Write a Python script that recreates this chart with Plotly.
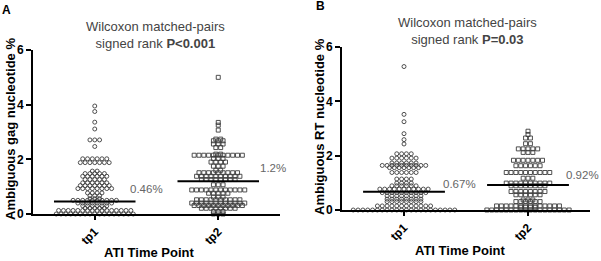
import plotly.graph_objects as go

# ---------------- data ----------------
categories = ["tp1", "tp2"]

# Panel A: ambiguous gag nucleotide %  (row level, number of points in that row)
a_tp1_levels = [3.95, 3.75, 3.36, 3.11, 2.71, 2.47, 2.02, 1.88, 1.57, 1.48, 1.38, 1.26, 1.14,
                1.04, 0.93, 0.77, 0.67, 0.56, 0.50, 0.40, 0.30, 0.21, 0.13, 0.00]
a_tp1_counts = [1, 1, 1, 1, 3, 1, 6, 7, 2, 5, 6, 5, 6,
                7, 8, 4, 3, 3, 10, 8, 6, 5, 16, 17]
a_tp2_levels = [5.00, 3.35, 3.25, 3.07, 2.74, 2.68, 2.56, 2.43, 2.19, 2.15, 2.03, 1.90, 1.75,
                1.60, 1.51, 1.38, 1.26, 1.07, 0.88, 0.76, 0.62, 0.52, 0.40, 0.31, 0.21, 0.09,
                0.00]
a_tp2_counts = [1, 1, 1, 1, 2, 3, 3, 2, 2, 11, 3, 4, 3,
                2, 9, 10, 8, 3, 12, 5, 3, 10, 12, 11, 8, 3,
                3]
a_medians = [0.46, 1.2]
a_median_labels = ["0.46%", "1.2%"]

# Panel B: ambiguous RT nucleotide %
b_tp1_levels = [5.28, 3.52, 3.25, 2.81, 2.59, 2.43, 2.07, 1.91, 1.73, 1.64, 1.56, 1.38, 1.14,
                0.99, 0.89, 0.77, 0.64, 0.52, 0.40, 0.31, 0.15, 0.00]
b_tp1_counts = [1, 1, 1, 1, 1, 1, 4, 6, 6, 10, 7, 6, 4,
                4, 6, 11, 10, 8, 8, 8, 12, 22]
b_tp2_levels = [2.90, 2.78, 2.65, 2.44, 2.25, 2.12, 1.83, 1.63, 1.38, 1.17, 0.99, 0.89, 0.68,
                0.56, 0.37, 0.31, 0.15, 0.10, 0.00]
b_tp2_counts = [1, 1, 2, 2, 5, 3, 7, 6, 10, 3, 10, 8, 8,
                6, 3, 6, 14, 4, 18]
b_medians = [0.67, 0.92]
b_median_labels = ["0.67%", "0.92%"]

y_ticks = [0, 2, 4, 6]

# ---------------- layout helpers ----------------
W, H = 601, 261
SPACING = 0.039    # horizontal beeswarm step in category units
HALF = 0.33        # half width of median line
FONT = "Arial, Liberation Sans, sans-serif"
MCOL = "#3c3c3c"


def swarm(center, levels, counts):
    xs, ys = [], []
    for lv, n in zip(levels, counts):
        for i in range(n):
            xs.append(center + (i - (n - 1) / 2) * SPACING)
            ys.append(lv)
    return xs, ys


fig = go.Figure()

panels = [
    dict(xa="x", ya="y", groups=[(a_tp1_levels, a_tp1_counts), (a_tp2_levels, a_tp2_counts)],
         medians=a_medians, labels=a_median_labels, shifts=[12, 13], dx=[0.42, 0.44]),
    dict(xa="x2", ya="y2", groups=[(b_tp1_levels, b_tp1_counts), (b_tp2_levels, b_tp2_counts)],
         medians=b_medians, labels=b_median_labels, shifts=[8, 10], dx=[0.45, 0.44]),
]
symbols = ["circle-open", "square-open"]

annotations = []
for p in panels:
    for ci, (lv, ct) in enumerate(p["groups"]):
        c = ci + 1
        xs, ys = swarm(c, lv, ct)
        fig.add_trace(go.Scatter(
            x=xs, y=ys, mode="markers", xaxis=p["xa"], yaxis=p["ya"],
            marker=dict(symbol=symbols[ci], size=4, color=MCOL, line=dict(width=0.9, color=MCOL)),
            cliponaxis=False, hoverinfo="y"))
        m = p["medians"][ci]
        fig.add_trace(go.Scatter(
            x=[c - HALF, c + HALF], y=[m, m], mode="lines", xaxis=p["xa"], yaxis=p["ya"],
            line=dict(color="black", width=2), cliponaxis=False, hoverinfo="skip"))
        annotations.append(dict(
            x=c + p["dx"][ci], y=m, xref=p["xa"], yref=p["ya"], text=p["labels"][ci],
            showarrow=False, xanchor="center", yanchor="middle", yshift=p["shifts"][ci],
            font=dict(family=FONT, size=11.5, color="#666666")))


def px_x(v):
    return v / W


def px_y(v):
    return (H - v) / H


xaxis_common = dict(range=[0.5, 2.5], tickvals=[1, 2], ticktext=categories, tickangle=-45,
                    ticks="outside", ticklen=4, tickwidth=1.5, tickcolor="black",
                    showline=True, linewidth=2, linecolor="black", showgrid=False, zeroline=False,
                    automargin=False,
                    tickfont=dict(family=FONT, size=12, color="black", weight="bold"))
yaxis_common = dict(range=[0, 6], tickvals=y_ticks, ticks="outside", ticklen=5, tickwidth=1.5,
                    tickcolor="black", showline=True, linewidth=2, linecolor="black",
                    showgrid=False, zeroline=False, automargin=False,
                    tickfont=dict(family=FONT, size=12, color="black", weight="bold"))

fig.update_layout(
    width=W, height=H, margin=dict(l=0, r=0, t=0, b=0, pad=0), autosize=False,
    paper_bgcolor="white", plot_bgcolor="white", showlegend=False,
    xaxis=dict(domain=[px_x(33), px_x(280)], anchor="y", **xaxis_common),
    yaxis=dict(domain=[px_y(214), px_y(50)], anchor="x", **yaxis_common),
    xaxis2=dict(domain=[px_x(342), px_x(590)], anchor="y2", **xaxis_common),
    yaxis2=dict(domain=[px_y(210), px_y(47)], anchor="x2", **yaxis_common),
)

bold = dict(family=FONT, size=13, color="black", weight="bold")
annotations += [
    dict(x=px_x(6), y=px_y(10), text="<b>A</b>", font=dict(family=FONT, size=12, color="black")),
    dict(x=px_x(320), y=px_y(6), text="<b>B</b>", font=dict(family=FONT, size=12, color="black")),
    dict(x=px_x(155), y=px_y(35), text="Wilcoxon matched-pairs<br>signed rank <b>P&lt;0.001</b>",
         font=dict(family=FONT, size=13, color="#444444")),
    dict(x=px_x(467), y=px_y(31), text="Wilcoxon matched-pairs<br>signed rank <b>P=0.03</b>",
         font=dict(family=FONT, size=13, color="#444444")),
    dict(x=px_x(10), y=px_y(129), text="Ambiguous gag nucleotide %", textangle=-90, font=bold),
    dict(x=px_x(319), y=px_y(127), text="Ambiguous RT nucleotide %", textangle=-90, font=bold),
    dict(x=px_x(149), y=px_y(252), text="ATI Time Point", font=bold),
    dict(x=px_x(460), y=px_y(250), text="ATI Time Point", font=bold),
]
for a in annotations[-8:]:
    a.update(xref="paper", yref="paper", showarrow=False, xanchor="center", yanchor="middle")

fig.update_layout(annotations=annotations)
fig.write_html("out.html", config={"displayModeBar": False},
               post_script="document.body.style.margin='0px';document.body.style.overflow='hidden';")
